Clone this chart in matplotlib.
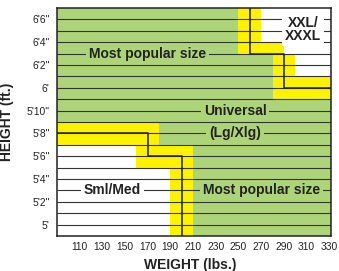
import matplotlib
matplotlib.use('Agg')
import matplotlib.pyplot as plt

# Colours used in the size chart.
GREEN = '#add479'
YELLOW = '#fff200'
INK = '#222222'

plt.rcParams['font.family'] = ['Liberation Sans', 'DejaVu Sans']

# Axis ranges (weight in lbs, height in inches).
W_MIN, W_MAX = 90, 331
H_MIN, H_MAX = 59, 79

# Tick values and labels.
weight_ticks = [110, 130, 150, 170, 190, 210, 230, 250, 270, 290, 310, 330]
height_ticks = [60, 62, 64, 66, 68, 70, 72, 74, 76, 78]
height_labels = ["5'", "5'2\"", "5'4\"", "5'6\"", "5'8\"",
                 "5'10\"", "6'", "6'2\"", "6'4\"", "6'6\""]

# Sml/Med area (white): band edges in height, weight limit for each band.
sml_h = [59, 65, 67]
sml_w = [190, 160, 160]

# Lower overlap band (yellow).
low_band_h = [59, 65, 67, 69]
low_band_left = [190, 160, 90, 90]
low_band_right = [210, 210, 180, 180]

# XXL/XXXL area (white).
xxl_h = [73, 75, 76, 79]
xxl_left = [300, 290, 270, 270]

# Upper overlap band (yellow).
up_band_h = [71, 73, 75, 76, 79]
up_band_left = [280, 280, 250, 250, 250]
up_band_right = [W_MAX, 300, 290, 270, 270]

# Size boundary lines.
low_line_w = [W_MIN, 170, 170, 200, 200]
low_line_h = [68, 68, 66, 66, H_MIN]
up_line_w = [260, 260, 290, 290, W_MAX]
up_line_h = [H_MAX, 75, 75, 72, 72]

# Region labels: text, weight, height, box colour.
labels = [
    ('Most popular size', 170, 75, GREEN),
    ('XXL/\nXXXL', 307, 77.1, 'white'),
    ('Universal', 247, 70, GREEN),
    ('(Lg/Xlg)', 247, 68, GREEN),
    ('Most popular size', 270, 63, GREEN),
    ('Sml/Med', 139, 63, 'white'),
]

fig = plt.figure(figsize=(3.39, 2.71), dpi=100)
ax = fig.add_axes([0.167, 0.129, 0.808, 0.8415])
ax.set_facecolor(GREEN)
ax.set_xlim(W_MIN, W_MAX)
ax.set_ylim(H_MIN, H_MAX)

# Filled areas.
ax.fill_betweenx(sml_h, W_MIN, sml_w, step='post', color='white', lw=0, zorder=1)
ax.fill_betweenx(low_band_h, low_band_left, low_band_right, step='post',
                 color=YELLOW, lw=0, zorder=1)
ax.fill_betweenx(xxl_h, xxl_left, W_MAX, step='post', color='white', lw=0, zorder=1)
ax.fill_betweenx(up_band_h, up_band_left, up_band_right, step='post',
                 color=YELLOW, lw=0, zorder=1)

# One rule per inch.
ax.hlines(range(H_MIN + 1, H_MAX), W_MIN, W_MAX, color='#333333', lw=0.8, zorder=2)

# Size boundaries.
ax.plot(low_line_w, low_line_h, color=INK, lw=1.1, zorder=3)
ax.plot(up_line_w, up_line_h, color=INK, lw=1.1, zorder=3)

for text, w, h, box in labels:
    ax.text(w, h, text, ha='center', va='center', ma='center', fontsize=10,
            fontweight='bold', color=INK, linespacing=0.9, zorder=4,
            bbox=dict(boxstyle='square,pad=0.2', fc=box, ec='none'))

ax.set_xticks(weight_ticks)
ax.set_yticks(height_ticks)
ax.set_yticklabels(height_labels)
ax.tick_params(axis='both', length=0, labelsize=7.4, colors=INK)
ax.tick_params(axis='x', pad=4)
ax.tick_params(axis='y', pad=5)

for spine in ax.spines.values():
    spine.set_color(INK)
    spine.set_linewidth(1.1)
    spine.set_zorder(5)

ax.set_xlabel('WEIGHT (lbs.)', fontsize=10, fontweight='heavy', color=INK)
ax.xaxis.set_label_coords(0.487, -0.097)
ax.set_ylabel('HEIGHT (ft.)', fontsize=10, fontweight='heavy', color=INK)
ax.yaxis.set_label_coords(-0.155, 0.5)

fig.savefig('out.png', dpi=100, facecolor='white')
